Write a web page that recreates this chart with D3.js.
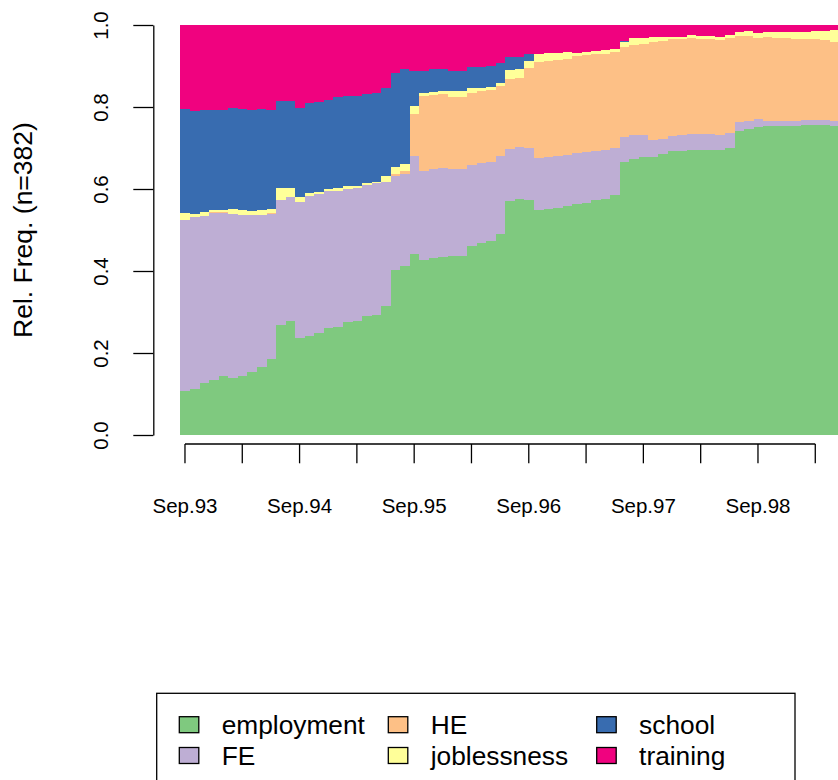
<!DOCTYPE html>
<html>
<head>
<meta charset="utf-8">
<script src="https://cdn.jsdelivr.net/npm/d3@7"></script>
<style>
  body { margin: 0; background: #ffffff; }
  svg { display: block; font-family: "Liberation Sans", Arial, Helvetica, sans-serif; }
</style>
</head>
<body>
<div id="chart"></div>
<script>
// Months of the sequence (Sep.93 .. Jun.99)
var months = [
  "Sep.93", "Oct.93", "Nov.93", "Dec.93", "Jan.94", "Feb.94", "Mar.94", "Apr.94", "May.94", "Jun.94",
  "Jul.94", "Aug.94", "Sep.94", "Oct.94", "Nov.94", "Dec.94", "Jan.95", "Feb.95", "Mar.95", "Apr.95",
  "May.95", "Jun.95", "Jul.95", "Aug.95", "Sep.95", "Oct.95", "Nov.95", "Dec.95", "Jan.96", "Feb.96",
  "Mar.96", "Apr.96", "May.96", "Jun.96", "Jul.96", "Aug.96", "Sep.96", "Oct.96", "Nov.96", "Dec.96",
  "Jan.97", "Feb.97", "Mar.97", "Apr.97", "May.97", "Jun.97", "Jul.97", "Aug.97", "Sep.97", "Oct.97",
  "Nov.97", "Dec.97", "Jan.98", "Feb.98", "Mar.98", "Apr.98", "May.98", "Jun.98", "Jul.98", "Aug.98",
  "Sep.98", "Oct.98", "Nov.98", "Dec.98", "Jan.99", "Feb.99", "Mar.99", "Apr.99", "May.99", "Jun.99"
];

// Relative frequencies of each state per month
var employment = [
  0.107, 0.112, 0.127, 0.134, 0.144, 0.139, 0.144, 0.154, 0.166, 0.185,
  0.268, 0.278, 0.237, 0.241, 0.249, 0.261, 0.263, 0.276, 0.278, 0.290,
  0.293, 0.315, 0.402, 0.412, 0.441, 0.427, 0.432, 0.434, 0.437, 0.437,
  0.461, 0.468, 0.473, 0.490, 0.571, 0.576, 0.573, 0.549, 0.551, 0.554,
  0.559, 0.563, 0.566, 0.573, 0.576, 0.585, 0.666, 0.673, 0.678, 0.678,
  0.685, 0.693, 0.693, 0.695, 0.695, 0.695, 0.695, 0.700, 0.741, 0.746,
  0.751, 0.754, 0.754, 0.754, 0.754, 0.756, 0.756, 0.756, 0.754, 0.754
];
var FE = [
  0.418, 0.420, 0.407, 0.407, 0.398, 0.399, 0.393, 0.383, 0.371, 0.354,
  0.304, 0.302, 0.331, 0.342, 0.339, 0.334, 0.332, 0.324, 0.324, 0.320,
  0.321, 0.302, 0.230, 0.225, 0.239, 0.217, 0.217, 0.217, 0.212, 0.212,
  0.198, 0.195, 0.193, 0.190, 0.127, 0.126, 0.127, 0.127, 0.127, 0.126,
  0.124, 0.125, 0.124, 0.120, 0.119, 0.115, 0.061, 0.059, 0.054, 0.042,
  0.037, 0.036, 0.039, 0.039, 0.039, 0.039, 0.037, 0.037, 0.022, 0.020,
  0.020, 0.012, 0.012, 0.012, 0.012, 0.012, 0.012, 0.012, 0.012, 0.012
];
var HE = [
  0.000, 0.000, 0.000, 0.002, 0.001, 0.002, 0.000, 0.000, 0.000, 0.002,
  0.002, 0.000, 0.000, 0.000, 0.000, 0.000, 0.000, 0.000, 0.000, 0.000,
  0.000, 0.000, 0.005, 0.007, 0.103, 0.183, 0.180, 0.181, 0.175, 0.175,
  0.175, 0.176, 0.175, 0.171, 0.170, 0.169, 0.195, 0.234, 0.234, 0.235,
  0.234, 0.236, 0.237, 0.236, 0.234, 0.234, 0.219, 0.219, 0.222, 0.239,
  0.239, 0.237, 0.234, 0.234, 0.232, 0.232, 0.231, 0.231, 0.210, 0.207,
  0.197, 0.205, 0.202, 0.202, 0.200, 0.198, 0.198, 0.195, 0.193, 0.193
];
var joblessness = [
  0.016, 0.007, 0.010, 0.006, 0.006, 0.011, 0.012, 0.010, 0.012, 0.010,
  0.028, 0.022, 0.012, 0.007, 0.005, 0.005, 0.007, 0.007, 0.005, 0.005,
  0.003, 0.015, 0.017, 0.017, 0.019, 0.007, 0.008, 0.007, 0.015, 0.015,
  0.012, 0.007, 0.008, 0.008, 0.022, 0.022, 0.017, 0.019, 0.020, 0.017,
  0.017, 0.008, 0.007, 0.008, 0.010, 0.007, 0.013, 0.017, 0.014, 0.012,
  0.010, 0.005, 0.005, 0.008, 0.007, 0.007, 0.008, 0.008, 0.010, 0.012,
  0.012, 0.012, 0.014, 0.014, 0.016, 0.016, 0.019, 0.022, 0.029, 0.029
];
var school = [
  0.254, 0.252, 0.248, 0.243, 0.243, 0.246, 0.246, 0.246, 0.246, 0.241,
  0.213, 0.213, 0.218, 0.220, 0.219, 0.217, 0.222, 0.220, 0.220, 0.217,
  0.217, 0.214, 0.229, 0.232, 0.086, 0.054, 0.056, 0.054, 0.049, 0.049,
  0.052, 0.052, 0.051, 0.048, 0.032, 0.029, 0.017, 0.000, 0.000, 0.000,
  0.000, 0.000, 0.000, 0.000, 0.000, 0.000, 0.002, 0.000, 0.000, 0.000,
  0.000, 0.000, 0.000, 0.000, 0.000, 0.000, 0.000, 0.000, 0.000, 0.000,
  0.000, 0.000, 0.000, 0.000, 0.000, 0.000, 0.000, 0.000, 0.000, 0.000
];
var training = [
  0.205, 0.209, 0.208, 0.208, 0.208, 0.203, 0.205, 0.207, 0.205, 0.208,
  0.185, 0.185, 0.202, 0.190, 0.188, 0.183, 0.176, 0.173, 0.173, 0.168,
  0.166, 0.154, 0.117, 0.107, 0.112, 0.112, 0.107, 0.107, 0.112, 0.112,
  0.102, 0.102, 0.100, 0.093, 0.078, 0.078, 0.071, 0.071, 0.068, 0.068,
  0.066, 0.068, 0.066, 0.063, 0.061, 0.059, 0.039, 0.032, 0.032, 0.029,
  0.029, 0.029, 0.029, 0.024, 0.027, 0.027, 0.029, 0.024, 0.017, 0.015,
  0.020, 0.017, 0.018, 0.018, 0.018, 0.018, 0.015, 0.015, 0.012, 0.012
];

var states = ["employment", "FE", "HE", "joblessness", "school", "training"];
var stateColors = ["#7FC97F", "#BEAED4", "#FDC086", "#FFFF99", "#386CB0", "#F0027F"];

// Axis ticks and labels
var xTickMonths = ["Sep.93", "Mar.94", "Sep.94", "Mar.95", "Sep.95", "Mar.96",
                   "Sep.96", "Mar.97", "Sep.97", "Mar.98", "Sep.98", "Mar.99"];
var xTickLabels = ["Sep.93", "Sep.94", "Sep.95", "Sep.96", "Sep.97", "Sep.98"];
var yTicks = [0, 0.2, 0.4, 0.6, 0.8, 1.0];
var yTitle = "Rel. Freq. (n=382)";

var width = 838;
var height = 780;
var monthWidth = 9.55;
var plotLeft = 180.2;
var plotTop = 25;
var plotBottom = 435;

var series = { employment: employment, FE: FE, HE: HE, joblessness: joblessness, school: school, training: training };
var table = months.map(function (m, i) {
    var row = { month: m };
    states.forEach(function (s) { row[s] = series[s][i]; });
    return row;
});

var svg = d3.select('#chart')
    .append('svg')
    .attr('width', width)
    .attr('height', height)
    .style('background', '#fff');

var x = d3.scaleBand()
    .domain(months)
    .range([plotLeft, plotLeft + months.length * monthWidth])
    .padding(0);

var y = d3.scaleLinear()
    .domain([0, 1])
    .range([plotBottom, plotTop]);

var color = d3.scaleOrdinal().domain(states).range(stateColors);

var stacked = d3.stack().keys(states)(table);

// Bars
svg.append('g')
    .selectAll('g')
    .data(stacked)
    .join('g')
    .attr('fill', function (d) { return color(d.key); })
    .selectAll('rect')
    .data(function (d) { return d; })
    .join('rect')
    .attr('x', function (d) { return x(d.data.month); })
    .attr('width', x.bandwidth() + 0.4)
    .attr('y', function (d) { return y(d[1]); })
    .attr('height', function (d) { return Math.max(0, y(d[0]) - y(d[1])); })
    .attr('shape-rendering', 'crispEdges');

// X axis: ticks every 6 months, labels every year
var half = x.bandwidth() / 2;
var xAxis = svg.append('g')
    .attr('transform', 'translate(0,444)')
    .call(d3.axisBottom(x)
        .tickValues(xTickMonths)
        .tickSize(19.3)
        .tickFormat(function (m) { return xTickLabels.indexOf(m) >= 0 ? m : ''; }));
xAxis.select('.domain').remove();
xAxis.append('line')
    .attr('x1', x(xTickMonths[0]) + half)
    .attr('x2', x(xTickMonths[xTickMonths.length - 1]) + half)
    .attr('stroke', '#000');
xAxis.selectAll('line').attr('stroke', '#000').attr('stroke-width', 1.3);
xAxis.selectAll('text')
    .attr('y', 69)
    .attr('dy', 0)
    .attr('fill', '#000')
    .style('font-size', '20.5px')
    .style('font-family', '"Liberation Sans", Arial, sans-serif');

// Y axis
var yAxis = svg.append('g')
    .attr('transform', 'translate(153.3,0)')
    .call(d3.axisLeft(y)
        .tickValues(yTicks)
        .tickSize(20)
        .tickSizeOuter(0)
        .tickFormat(d3.format('.1f')));
yAxis.select('.domain').attr('stroke', '#000').attr('stroke-width', 1.3);
yAxis.selectAll('line').attr('stroke', '#000').attr('stroke-width', 1.3);
yAxis.selectAll('text')
    .attr('x', null)
    .attr('dy', null)
    .attr('text-anchor', 'middle')
    .attr('fill', '#000')
    .attr('transform', 'translate(-45,0) rotate(-90)')
    .style('font-size', '20.5px')
    .style('font-family', '"Liberation Sans", Arial, sans-serif');

// Y title
svg.append('text')
    .attr('transform', 'translate(31.7,' + (plotTop + plotBottom) / 2 + ') rotate(-90)')
    .attr('text-anchor', 'middle')
    .style('font-size', '26.5px')
    .text(yTitle);

// Legend (box runs past the bottom edge, as in the original)
var legend = svg.append('g');
legend.append('rect')
    .attr('x', 156.7)
    .attr('y', 693.3)
    .attr('width', 638.3)
    .attr('height', 140)
    .attr('fill', 'none')
    .attr('stroke', '#000')
    .attr('stroke-width', 1.3);

var legendCols = [179.3, 388.3, 596.7];
var legendRows = [724.7, 755.5];
var item = legend.selectAll('g.item')
    .data(states)
    .join('g')
    .attr('class', 'item')
    .attr('transform', function (d, i) {
        return 'translate(' + legendCols[Math.floor(i / 2)] + ',' + legendRows[i % 2] + ')';
    });
item.append('rect')
    .attr('x', 0)
    .attr('y', -8)
    .attr('width', 19.5)
    .attr('height', 16)
    .attr('fill', function (d) { return color(d); })
    .attr('stroke', '#000')
    .attr('stroke-width', 1.3);
item.append('text')
    .attr('x', 42.4)
    .attr('y', 9.4)
    .style('font-size', '26.3px')
    .text(function (d) { return d; });
</script>
</body>
</html>
